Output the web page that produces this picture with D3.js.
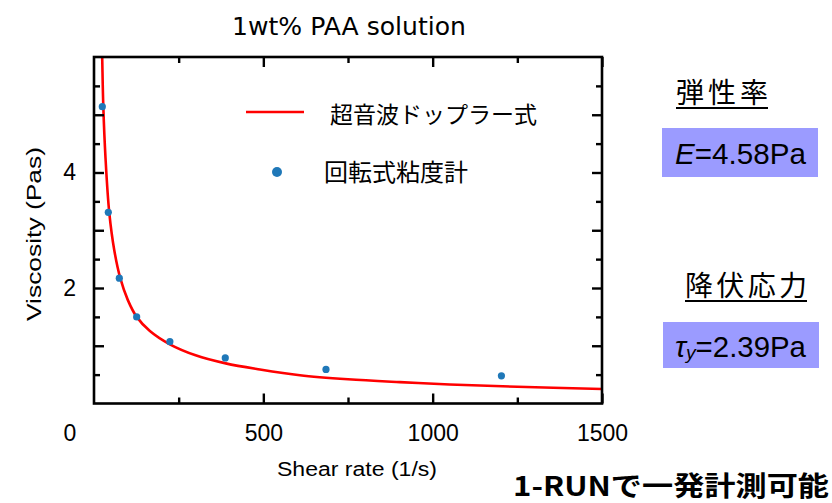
<!DOCTYPE html>
<html>
<head>
<meta charset="utf-8">
<script src="https://cdn.jsdelivr.net/npm/d3@7"></script>
<style>
  body { margin: 0; background: #fff; }
  svg { display: block; }
  .tick text { font-family: "Liberation Sans", Arial, sans-serif; }
</style>
</head>
<body>
<svg id="chart" width="832" height="503"></svg>
<script>
// Rotational viscometer readings: shear rate (1/s) and viscosity (Pa·s)
const rheometerShear = [24.5, 42.2, 74.7, 126, 224, 387.6, 685, 1203];
const rheometerVisc  = [5.14, 3.31, 2.17, 1.50, 1.07, 0.79, 0.59, 0.48];

// Viscosity curve obtained by the ultrasonic Doppler method
const dopplerShear = [20, 24.2, 27.5, 34, 45, 60, 77.6, 100, 126, 165, 224, 300, 389, 490, 608, 750, 903, 1050, 1250, 1500];
const dopplerVisc  = [7.25, 6.0, 5.14, 4.25, 3.31, 2.65, 2.17, 1.79, 1.50, 1.255, 1.025, 0.835, 0.695, 0.59, 0.49, 0.42, 0.37, 0.33, 0.29, 0.25];

// Axis ticks
const xMajorTicks = [500, 1000, 1500];
const xMinorTicks = [250, 750, 1250];
const yMajorTicks = [1, 2, 3, 4, 5];
const yMinorTicks = [0.5, 1.5, 2.5, 3.5, 4.5, 5.5];
const yLabelTicks = [2, 4];

// Text content
const titleText = "1wt% PAA solution";
const xTitle = "Shear rate (1/s)";
const yTitle = "Viscosity (Pas)";
const legendLabels = ["超音波ドップラー式", "回転式粘度計"];
const modulusHeading = "弾性率";
const yieldHeading = "降伏応力";
const modulusValue = 4.58;
const yieldValue = 2.39;
const footnote = "1-RUNで一発計測可能";

const svg = d3.select("#chart");
const plot = { left: 94, top: 57, right: 602, bottom: 403.5 };

const x = d3.scaleLinear().domain([0, 1500]).range([plot.left, plot.right]);
const y = d3.scaleLinear().domain([0, 6]).range([plot.bottom, plot.top]);

const sans = "'Liberation Sans', Arial, sans-serif";
const cjk = "'Noto Sans CJK JP', sans-serif";

// Clip region for the curve
svg.append("defs").append("clipPath").attr("id", "plotClip")
  .append("rect")
  .attr("x", plot.left).attr("y", plot.top)
  .attr("width", plot.right - plot.left).attr("height", plot.bottom - plot.top);

// Doppler curve
const curveData = dopplerShear.map((s, i) => [s, dopplerVisc[i]]);
const line = d3.line().x(d => x(d[0])).y(d => y(d[1])).curve(d3.curveCatmullRom.alpha(0.5));
svg.append("path")
  .datum(curveData)
  .attr("clip-path", "url(#plotClip)")
  .attr("fill", "none")
  .attr("stroke", "#ff0000")
  .attr("stroke-width", 2.6)
  .attr("d", line);

// Viscometer points
const pts = rheometerShear.map((s, i) => [s, rheometerVisc[i]]);
svg.append("g").selectAll("circle").data(pts).join("circle")
  .attr("cx", d => x(d[0]))
  .attr("cy", d => y(d[1]))
  .attr("r", 3.6)
  .attr("fill", "#1f78b8");

// Axes: inward ticks on all four sides
function styleAxis(g) {
  g.select(".domain").remove();
  g.selectAll(".tick line").attr("stroke", "#000").attr("stroke-width", 2.4);
  g.selectAll(".tick text").attr("fill", "#000").attr("font-size", 23);
}
const noLabel = () => "";

svg.append("g").attr("transform", `translate(0,${plot.bottom})`)
  .call(d3.axisBottom(x).tickValues(xMajorTicks).tickSize(-10).tickPadding(21).tickFormat(d3.format("d")))
  .call(styleAxis);
svg.append("g").attr("transform", `translate(0,${plot.bottom})`)
  .call(d3.axisBottom(x).tickValues(xMinorTicks).tickSize(-6).tickFormat(noLabel))
  .call(styleAxis);
svg.append("g").attr("transform", `translate(0,${plot.top})`)
  .call(d3.axisTop(x).tickValues(xMajorTicks).tickSize(-10).tickFormat(noLabel))
  .call(styleAxis);
svg.append("g").attr("transform", `translate(0,${plot.top})`)
  .call(d3.axisTop(x).tickValues(xMinorTicks).tickSize(-6).tickFormat(noLabel))
  .call(styleAxis);

svg.append("g").attr("transform", `translate(${plot.left},0)`)
  .call(d3.axisLeft(y).tickValues(yMajorTicks).tickSize(-10).tickPadding(18)
    .tickFormat(d => yLabelTicks.includes(d) ? d3.format("d")(d) : ""))
  .call(styleAxis);
svg.append("g").attr("transform", `translate(${plot.left},0)`)
  .call(d3.axisLeft(y).tickValues(yMinorTicks).tickSize(-6).tickFormat(noLabel))
  .call(styleAxis);
svg.append("g").attr("transform", `translate(${plot.right},0)`)
  .call(d3.axisRight(y).tickValues(yMajorTicks).tickSize(-10).tickFormat(noLabel))
  .call(styleAxis);
svg.append("g").attr("transform", `translate(${plot.right},0)`)
  .call(d3.axisRight(y).tickValues(yMinorTicks).tickSize(-6).tickFormat(noLabel))
  .call(styleAxis);

// Shared origin label at the lower-left corner
svg.append("text")
  .attr("x", x(0) - 24).attr("y", plot.bottom + 21).attr("dy", "0.71em")
  .attr("text-anchor", "middle")
  .attr("font-family", sans).attr("font-size", 23)
  .text("0");

// Plot frame
svg.append("rect")
  .attr("x", plot.left).attr("y", plot.top)
  .attr("width", plot.right - plot.left).attr("height", plot.bottom - plot.top)
  .attr("fill", "none").attr("stroke", "#000").attr("stroke-width", 2.6);

// Title
svg.append("text")
  .attr("x", 349).attr("y", 35)
  .attr("text-anchor", "middle")
  .attr("font-family", "'DejaVu Sans', sans-serif").attr("font-size", 24)
  .attr("textLength", 234).attr("lengthAdjust", "spacingAndGlyphs")
  .text(titleText);

// Axis titles
svg.append("text")
  .attr("x", 357).attr("y", 476)
  .attr("text-anchor", "middle")
  .attr("font-family", sans).attr("font-size", 20)
  .attr("textLength", 160).attr("lengthAdjust", "spacingAndGlyphs")
  .text(xTitle);
svg.append("text")
  .attr("transform", `translate(41,234) rotate(-90)`)
  .attr("text-anchor", "middle")
  .attr("font-family", sans).attr("font-size", 21)
  .attr("textLength", 174).attr("lengthAdjust", "spacingAndGlyphs")
  .text(yTitle);

// Legend
svg.append("line")
  .attr("x1", 246).attr("x2", 304).attr("y1", 112).attr("y2", 112)
  .attr("stroke", "#ff0000").attr("stroke-width", 2.6);
svg.append("text")
  .attr("x", 330).attr("y", 123)
  .attr("font-family", cjk).attr("font-size", 23)
  .text(legendLabels[0]);
svg.append("circle")
  .attr("cx", 277).attr("cy", 172).attr("r", 5)
  .attr("fill", "#1f78b8");
svg.append("text")
  .attr("x", 324).attr("y", 181)
  .attr("font-family", cjk).attr("font-size", 24)
  .text(legendLabels[1]);

// Material parameters panel
function heading(text, xStart, baseline, width) {
  svg.append("text")
    .attr("x", xStart).attr("y", baseline)
    .attr("font-family", cjk).attr("font-size", 28)
    .attr("textLength", width).attr("lengthAdjust", "spacing")
    .text(text);
  svg.append("line")
    .attr("x1", xStart).attr("x2", xStart + width)
    .attr("y1", baseline + 5).attr("y2", baseline + 5)
    .attr("stroke", "#000").attr("stroke-width", 2.2);
}
heading(modulusHeading, 676, 103, 92);
heading(yieldHeading, 685, 296, 122);

svg.append("rect")
  .attr("x", 662).attr("y", 128).attr("width", 156).attr("height", 49)
  .attr("fill", "#9b9bff");
const eText = svg.append("text")
  .attr("x", 675).attr("y", 164)
  .attr("font-family", sans).attr("font-size", 29)
  .attr("textLength", 131).attr("lengthAdjust", "spacingAndGlyphs");
eText.append("tspan").attr("font-style", "italic").text("E");
eText.append("tspan").text(`=${modulusValue.toFixed(2)}Pa`);

svg.append("rect")
  .attr("x", 663).attr("y", 322).attr("width", 156).attr("height", 46)
  .attr("fill", "#9b9bff");
const tText = svg.append("text")
  .attr("x", 675).attr("y", 357)
  .attr("font-family", sans).attr("font-size", 29)
  .attr("textLength", 131).attr("lengthAdjust", "spacingAndGlyphs");
tText.append("tspan").attr("font-style", "italic").text("τ");
tText.append("tspan").attr("font-style", "italic").attr("font-size", 19).attr("dy", 2).text("y");
tText.append("tspan").attr("dy", -2).text(`=${yieldValue.toFixed(2)}Pa`);

// Footnote
svg.append("text")
  .attr("x", 513).attr("y", 496)
  .attr("font-family", cjk).attr("font-size", 27).attr("font-weight", "bold")
  .attr("textLength", 316).attr("lengthAdjust", "spacingAndGlyphs")
  .text(footnote);
</script>
</body>
</html>
